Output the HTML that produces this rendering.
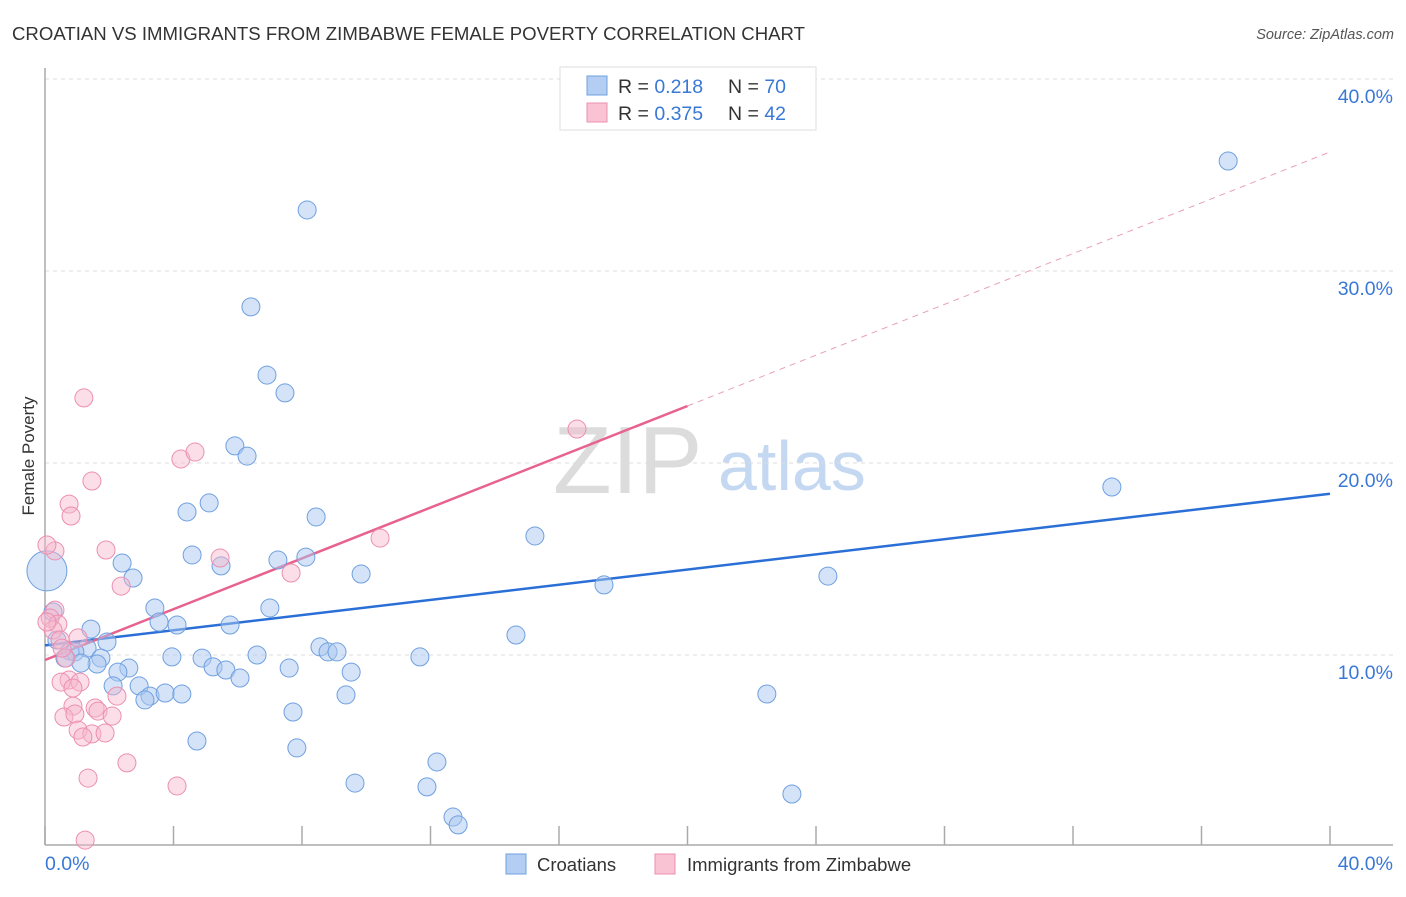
<!DOCTYPE html>
<html><head><meta charset="utf-8"><style>
body{margin:0;background:#fff;font-family:"Liberation Sans",sans-serif;}
svg text{font-family:"Liberation Sans",sans-serif;}
</style></head><body>
<svg width="1406" height="892" xmlns="http://www.w3.org/2000/svg">
<text x="12" y="40" font-size="18.6" fill="#333" textLength="793" lengthAdjust="spacingAndGlyphs">CROATIAN VS IMMIGRANTS FROM ZIMBABWE FEMALE POVERTY CORRELATION CHART</text>
<text x="1394" y="39" font-size="14.5" fill="#555" text-anchor="end" font-style="italic">Source: ZipAtlas.com</text>
<g>
<text x="553" y="493" font-size="96" fill="#dcdcdc" font-family="Liberation Serif, serif">ZIP</text>
<text x="718" y="490" font-size="70" fill="#c5d8f2">atlas</text>
</g>
<g id="grid"></g>
<g id="axes"></g>
<text x="34" y="456" font-size="17" fill="#333" text-anchor="middle" transform="rotate(-90 34 456)">Female Poverty</text>
<g id="lines"></g>
<g id="pts"></g>
<g>
<rect x="560" y="67" width="256" height="63" fill="#fff" stroke="#ddd"/>
<rect x="587" y="76" width="20" height="19" fill="#b3cef2" stroke="#6fa0e0"/>
<rect x="587" y="103" width="20" height="19" fill="#f9c3d3" stroke="#ec8fb0"/>
<text x="618" y="93" font-size="19.5" fill="#333">R = <tspan fill="#3a78d6">0.218</tspan><tspan x="728">N = </tspan><tspan fill="#3a78d6">70</tspan></text>
<text x="618" y="120" font-size="19.5" fill="#333">R = <tspan fill="#3a78d6">0.375</tspan><tspan x="728">N = </tspan><tspan fill="#3a78d6">42</tspan></text>
</g>
<g>
<rect x="506" y="854" width="20" height="20" fill="#b3cef2" stroke="#6fa0e0"/>
<text x="537" y="871" font-size="18.5" fill="#333">Croatians</text>
<rect x="655" y="854" width="20" height="20" fill="#f9c3d3" stroke="#ec8fb0"/>
<text x="687" y="871" font-size="18.5" fill="#333">Immigrants from Zimbabwe</text>
</g>
</svg>
<script>
const yTicks=[10,20,30,40];
const yTickLabels=["10.0%","20.0%","30.0%","40.0%"];
const xTickValues=[0,4,8,12,16,20,24,28,32,36,40];
const xLabels=["0.0%","40.0%"];
const croX=[36.83,8.16,6.41,6.91,7.47,5.91,6.29,5.11,4.42,8.44,15.25,33.21,4.58,5.48,7.25,8.12,2.40,2.74,9.84,24.37,17.40,3.42,3.55,4.11,5.76,7.00,14.66,1.43,1.93,1.31,0.78,0.93,1.74,1.62,1.12,8.56,8.81,9.09,3.95,4.89,6.60,11.67,2.61,2.27,5.23,5.63,7.60,9.53,6.07,2.12,2.93,3.27,3.11,3.74,4.26,9.37,22.47,7.72,4.73,7.84,12.20,9.65,11.89,23.25,12.70,12.86,0.62,0.37,0.06,0.25];
const croY=[35.73,33.18,28.13,24.58,23.65,20.89,20.36,17.92,17.45,17.19,16.20,18.75,15.21,14.64,14.95,15.10,14.79,14.01,14.22,14.11,13.65,12.45,11.72,11.56,11.56,12.45,11.04,11.35,10.68,10.36,10.21,10.16,9.84,9.53,9.58,10.42,10.16,10.16,9.90,9.84,10.00,9.90,9.32,9.11,9.38,9.22,9.32,9.11,8.80,8.39,8.39,7.86,7.66,8.02,7.97,7.92,7.97,7.03,5.52,5.16,4.43,3.33,3.13,2.76,1.56,1.15,9.84,10.78,14.38,12.24];
const croBig=[68];
const zimX=[1.21,4.23,4.67,1.46,0.75,0.81,16.56,10.43,1.90,5.45,0.31,0.06,7.66,2.37,0.31,0.16,0.40,0.25,1.03,0.47,0.65,0.75,0.50,1.09,0.87,2.24,0.87,1.56,1.65,0.59,0.93,2.09,1.03,1.46,1.18,1.87,2.55,1.34,4.11,1.25,0.06,0.53];
const zimY=[23.39,20.21,20.57,19.06,17.86,17.24,21.77,16.09,15.47,15.05,15.42,15.73,14.27,13.59,12.34,11.93,11.61,11.30,10.89,10.78,9.84,8.70,8.59,8.59,8.28,7.86,7.34,7.24,7.08,6.77,6.93,6.82,6.09,5.89,5.73,5.94,4.38,3.59,3.18,0.36,11.72,10.36];
const croLine=[10.5,18.4];
const zimLine=[9.74,22.97,36.2];
const zimSolidEnd=20;

const NS="http://www.w3.org/2000/svg";
const X=v=>45+v*32.125, Y=v=>847-v*19.2;
function mk(tag,attrs,parent){const e=document.createElementNS(NS,tag);for(const k in attrs)e.setAttribute(k,attrs[k]);parent.appendChild(e);return e;}
const grid=document.getElementById('grid'),axes=document.getElementById('axes'),lines=document.getElementById('lines'),pts=document.getElementById('pts');
yTicks.forEach((t,i)=>{
 const l=mk('line',{x1:45,x2:1393,y1:Y(t),y2:Y(t),stroke:'#ddd','stroke-dasharray':'4,4'},grid);
 
 
 const tx=mk('text',{x:1393,y:Y(t)+24,'font-size':19.5,fill:'#3a78d6','text-anchor':'end'},axes);
 tx.textContent=yTickLabels[i];
 
 
});
let a=mk('line',{x1:45,x2:45,y1:68,y2:845,stroke:'#aaa','stroke-width':1.5},axes);


a=mk('line',{x1:45,x2:1393,y1:845,y2:845,stroke:'#aaa','stroke-width':1.5},axes);


xTickValues.forEach(t=>{
 const l=mk('line',{x1:X(t),x2:X(t),y1:826,y2:845,stroke:'#aaa','stroke-width':1.5},axes);
 
 
});
let t0=mk('text',{x:45,y:870,'font-size':19.5,fill:'#3a78d6'},axes);t0.textContent=xLabels[0];


let t1=mk('text',{x:1393,y:870,'font-size':19.5,fill:'#3a78d6','text-anchor':'end'},axes);t1.textContent=xLabels[1];



croX.forEach((x,i)=>{
 const big=croBig.includes(i);
 const c=mk('circle',{cx:X(x),cy:Y(croY[i]),r:big?20:9,fill:'#a9c8f0','fill-opacity':0.5,stroke:'#6fa0e0','stroke-width':1},pts);
 
 
});
zimX.forEach((x,i)=>{
 const c=mk('circle',{cx:X(x),cy:Y(zimY[i]),r:9,fill:'#f7b6cb','fill-opacity':0.45,stroke:'#ec8fb0','stroke-width':1},pts);
 
 
});
let l1=mk('line',{x1:X(0),y1:Y(croLine[0]),x2:X(40),y2:Y(croLine[1]),stroke:'#2a6fd6','stroke-width':2.5},lines);


let l2=mk('line',{x1:X(0),y1:Y(zimLine[0]),x2:X(zimSolidEnd),y2:Y(zimLine[1]),stroke:'#e8628e','stroke-width':2.5},lines);


let l3=mk('line',{x1:X(zimSolidEnd),y1:Y(zimLine[1]),x2:X(40),y2:Y(zimLine[2]),stroke:'#e8a0b8','stroke-width':1,'stroke-dasharray':'6,5'},lines);


</script>
</body></html>
